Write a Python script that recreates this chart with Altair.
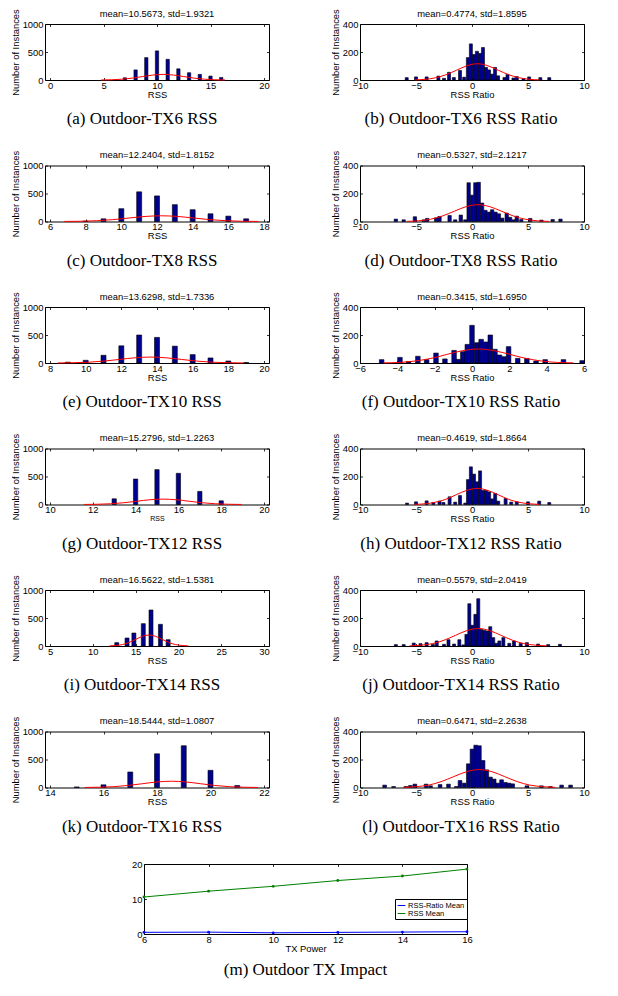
import altair as alt
import pandas as pd

# ---------------- data ----------------
# RSS histograms (bar centres, counts)
A_X = [7, 8, 9, 10, 11, 12, 13, 14, 15, 16]
A_N = [40, 180, 400, 520, 370, 200, 130, 100, 70, 45]
C_X = [8, 9, 10, 11, 12, 13, 14, 15, 16, 17]
C_N = [8, 48, 229, 530, 457, 301, 211, 138, 96, 48]
E_X = [9, 10, 11, 12, 13, 14, 15, 16, 17, 18, 19]
E_N = [15, 48, 138, 307, 500, 457, 301, 150, 90, 36, 8]
G_X = [13, 14, 15, 16, 17, 18]
G_N = [102, 455, 623, 557, 234, 66]
I_X = [12.8, 14.0, 14.8, 15.9, 16.8, 17.9, 18.8]
I_N = [60, 143, 232, 399, 643, 387, 113]
K_X = [15, 16, 17, 18, 19, 20, 21]
K_N = [10, 48, 277, 602, 746, 307, 36]

# RSS ratio histograms (bin centres, counts)
B_X = [-5.83, -5.0, -4.05, -3.0, -2.5, -2.05, -1.62, -1.07, -0.7, -0.37, -0.1, 0.17, 0.44, 0.71,
       0.98, 1.25, 1.52, 1.79, 2.06, 2.33, 2.9, 3.17, 3.7, 4.0, 4.6, 5.1, 6.1, 6.9]
B_N = [17, 22, 22, 28, 12, 55, 18, 68, 20, 160, 258, 182, 205, 190,
       232, 90, 72, 42, 90, 30, 18, 40, 14, 24, 10, 22, 17, 17]
D_X = [-6.8, -6.1, -5.1, -4.3, -4.0, -3.2, -2.9, -2.0, -1.5, -1.0, -0.6, -0.3, 0.0, 0.3, 0.6, 0.9,
       1.2, 1.5, 1.8, 2.1, 2.4, 2.7, 3.1, 3.4, 3.7, 4.0, 4.4, 5.2, 6.2, 7.2, 7.9]
D_N = [17, 12, 34, 12, 22, 26, 36, 43, 12, 46, 12, 277, 188, 277, 280, 132,
       80, 67, 84, 67, 55, 24, 60, 30, 12, 38, 14, 22, 10, 14, 17]
F_X = [-4.84, -3.86, -3.4, -2.9, -2.43, -1.93, -1.45, -0.96, -0.73, -0.49, -0.25, 0.0, 0.25, 0.49,
       0.74, 0.98, 1.23, 1.47, 1.72, 1.96, 2.45, 2.94, 3.43, 3.92, 4.9, 5.9]
F_N = [24, 40, 10, 48, 24, 71, 29, 90, 26, 81, 133, 269, 145, 169,
       150, 200, 98, 57, 45, 117, 33, 33, 14, 24, 24, 17]
H_X = [-5.8, -5.0, -4.05, -3.45, -2.9, -2.55, -2.0, -1.5, -1.07, -0.6, -0.36, -0.1, 0.18, 0.45,
       0.72, 0.99, 1.26, 1.53, 1.8, 2.07, 2.34, 3.0, 3.5, 4.0, 5.0, 6.0, 6.9]
H_N = [10, 19, 26, 14, 24, 14, 55, 17, 64, 10, 178, 269, 217, 162,
       240, 100, 100, 90, 40, 79, 24, 43, 17, 19, 19, 24, 14]
J_X = [-6.8, -6.1, -5.2, -4.6, -4.05, -3.5, -3.15, -2.5, -2.1, -1.6, -1.13, -0.77, -0.5, -0.24,
       0.03, 0.3, 0.56, 0.83, 1.1, 1.37, 1.63, 1.9, 2.17, 2.44, 2.8, 3.33, 3.75, 4.35, 4.9, 5.9,
       6.8, 7.85]
J_N = [10, 10, 21, 17, 24, 12, 36, 12, 45, 14, 45, 8, 83, 302,
       148, 226, 338, 119, 112, 107, 138, 60, 19, 36, 60, 19, 36, 19, 24, 14,
       10, 12]
L_X = [-7.8, -7.0, -5.9, -5.5, -5.1, -4.1, -3.7, -2.85, -2.1, -1.4, -1.07, -0.7, -0.33, 0.0, 0.33,
       0.66, 0.99, 1.32, 1.65, 1.98, 2.31, 2.64, 2.97, 3.3, 3.63, 4.9, 6.2, 7.0, 8.0, 8.8]
L_N = [17, 7, 7, 14, 24, 24, 12, 21, 24, 7, 50, 31, 169, 274, 302,
       298, 193, 126, 74, 60, 31, 55, 36, 31, 26, 12, 12, 7, 17, 17]

# red fitted curves (x, y)
A_CX = [4.78, 5.74, 6.71, 7.67, 8.64, 9.60, 10.57, 11.54, 12.50, 13.47, 14.43, 15.40, 16.36]
A_CY = [1, 4, 14, 33, 61, 88, 100, 88, 61, 33, 14, 4, 1]
B_CX = [-5.10, -4.17, -3.24, -2.31, -1.38, -0.45, 0.48, 1.41, 2.34, 3.27, 4.20, 5.13, 6.06]
B_CY = [1, 5, 16, 38, 70, 102, 116, 102, 70, 38, 16, 5, 1]
C_CX = [6.80, 7.70, 8.61, 9.52, 10.43, 11.33, 12.24, 13.15, 14.06, 14.96, 15.87, 16.78, 17.69]
C_CY = [1, 4, 14, 33, 62, 90, 102, 90, 62, 33, 14, 4, 1]
D_CX = [-5.83, -4.77, -3.71, -2.65, -1.59, -0.53, 0.53, 1.59, 2.65, 3.71, 4.77, 5.83, 6.89]
D_CY = [1, 5, 16, 39, 73, 106, 120, 106, 73, 39, 16, 5, 1]
E_CX = [8.43, 9.30, 10.16, 11.03, 11.90, 12.76, 13.63, 14.50, 15.36, 16.23, 17.10, 17.96, 18.83]
E_CY = [1, 5, 14, 34, 64, 93, 106, 93, 64, 34, 14, 5, 1]
F_CX = [-4.74, -3.90, -3.05, -2.20, -1.35, -0.51, 0.34, 1.19, 2.04, 2.88, 3.73, 4.58, 5.43]
F_CY = [1, 4, 14, 33, 61, 88, 100, 88, 61, 33, 14, 4, 1]
G_CX = [11.60, 12.21, 12.83, 13.44, 14.05, 14.67, 15.28, 15.89, 16.51, 17.12, 17.73, 18.35, 18.96]
G_CY = [1, 4, 13, 31, 58, 85, 96, 85, 58, 31, 13, 4, 1]
H_CX = [-5.14, -4.20, -3.27, -2.34, -1.40, -0.47, 0.46, 1.39, 2.33, 3.26, 4.19, 5.13, 6.06]
H_CY = [1, 5, 16, 37, 70, 101, 115, 101, 70, 37, 16, 5, 1]
I_CX = [11.95, 12.71, 13.48, 14.25, 15.02, 15.79, 16.56, 17.33, 18.10, 18.87, 19.64, 20.41, 21.17]
I_CY = [2, 9, 26, 64, 119, 173, 196, 173, 119, 64, 26, 9, 2]
J_CX = [-5.57, -4.54, -3.52, -2.50, -1.48, -0.46, 0.56, 1.58, 2.60, 3.62, 4.64, 5.66, 6.68]
J_CY = [1, 6, 17, 41, 76, 110, 125, 110, 76, 41, 17, 6, 1]
K_CX = [15.30, 15.84, 16.38, 16.92, 17.46, 18.00, 18.54, 19.08, 19.62, 20.16, 20.70, 21.24, 21.78]
K_CY = [1, 5, 15, 36, 68, 99, 112, 99, 68, 36, 15, 5, 1]
L_CX = [-6.14, -5.01, -3.88, -2.75, -1.62, -0.48, 0.65, 1.78, 2.91, 4.04, 5.17, 6.31, 7.44]
L_CY = [1, 6, 17, 42, 78, 113, 128, 113, 78, 42, 17, 6, 1]

TITLES = ["mean=10.5673, std=1.9321", "mean=0.4774, std=1.8595",
          "mean=12.2404, std=1.8152", "mean=0.5327, std=2.1217",
          "mean=13.6298, std=1.7336", "mean=0.3415, std=1.6950",
          "mean=15.2796, std=1.2263", "mean=0.4619, std=1.8664",
          "mean=16.5622, std=1.5381", "mean=0.5579, std=2.0419",
          "mean=18.5444, std=1.0807", "mean=0.6471, std=2.2638"]
CAPTIONS = ["(a) Outdoor-TX6 RSS", "(b) Outdoor-TX6 RSS Ratio",
            "(c) Outdoor-TX8 RSS", "(d) Outdoor-TX8 RSS Ratio",
            "(e) Outdoor-TX10 RSS", "(f) Outdoor-TX10 RSS Ratio",
            "(g) Outdoor-TX12 RSS", "(h) Outdoor-TX12 RSS Ratio",
            "(i) Outdoor-TX14 RSS", "(j) Outdoor-TX14 RSS Ratio",
            "(k) Outdoor-TX16 RSS", "(l) Outdoor-TX16 RSS Ratio"]

RSS_TICKS = {
    "a": [0, 5, 10, 15, 20], "c": [6, 8, 10, 12, 14, 16, 18], "e": [8, 10, 12, 14, 16, 18, 20],
    "g": [10, 12, 14, 16, 18, 20], "i": [5, 10, 15, 20, 25, 30], "k": [14, 16, 18, 20, 22],
}
RATIO_TICKS = [-10, -5, 0, 5, 10]
F_TICKS = [-6, -4, -2, 0, 2, 4, 6]
RSS_YTICKS = [0, 500, 1000]
RATIO_YTICKS = [0, 200, 400]

# bottom panel (m)
TX_POWER = [6, 8, 10, 12, 14, 16]
RSS_MEAN = [10.5673, 12.2404, 13.6298, 15.2796, 16.5622, 18.5444]
RATIO_MEAN = [0.4774, 0.5327, 0.3415, 0.4619, 0.5579, 0.6471]
SERIES = ["RSS-Ratio Mean", "RSS Mean"]
M_YTICKS = [0, 10, 20]

# ---------------- styling ----------------
W, H = 224, 56
NAVY = "#00008F"
FS = 9.4
CAPFS = 17
SANS = "Liberation Sans"
SERIF = "Liberation Serif"
TK = 2.5  # inward tick length (MATLAB style)


def main_axis(values, title, pad, tpad, tfs=FS):
    return alt.Axis(values=values, title=title, titleFontSize=tfs, format="d",
                    offset=-TK, ticks=True, tickSize=TK, tickColor="black", tickWidth=0.8,
                    labelPadding=pad, titlePadding=tpad)


def mirror_axis(values, orient):
    return alt.Axis(values=values, orient=orient, title="", labels=False, offset=-TK,
                    ticks=True, tickSize=TK, tickColor="black", tickWidth=0.8)


def panel(kind, xs, ns, cx, cy, xdom, xticks, ydom, yticks, title, xtitle, caption,
          size=4.5, bw=0.27, xts=FS, capdx=-15):
    xsc = alt.Scale(domain=xdom, nice=False, zero=False)
    ysc = alt.Scale(domain=ydom, nice=False)
    xenc = alt.X("x0:Q", scale=xsc, axis=main_axis(xticks, xtitle, 1, 1, xts))
    yenc = alt.Y("n:Q", scale=ysc, axis=main_axis(yticks, "Number of Instances", 2, 2))
    if kind == "rss":
        df = pd.DataFrame({"x0": xs, "n": ns})
        bars = alt.Chart(df).mark_bar(size=size, color=NAVY, stroke="black",
                                      strokeWidth=0.6).encode(x=xenc, y=yenc)
    else:
        df = pd.DataFrame({"x0": [v - bw / 2 for v in xs], "x1": [v + bw / 2 for v in xs], "n": ns})
        bars = alt.Chart(df).mark_bar(color=NAVY, stroke="black", strokeWidth=0.6).encode(
            x=xenc, x2="x1:Q", y=yenc, y2=alt.datum(0))
    cdf = pd.DataFrame({"x0": cx, "n": cy})
    curve = alt.Chart(cdf).mark_line(color="red", strokeWidth=1, interpolate="monotone").encode(
        x=alt.X("x0:Q", scale=xsc, axis=mirror_axis(xticks, "top")),
        y=alt.Y("n:Q", scale=ysc, axis=mirror_axis(yticks, "right")))
    ttl = alt.Chart(pd.DataFrame({"t": [title]})).mark_text(
        font=SANS, fontSize=FS, align="center", baseline="middle", color="black"
    ).encode(x=alt.value(W / 2), y=alt.value(-10.5), text="t:N")
    cap = alt.Chart(pd.DataFrame({"t": [caption]})).mark_text(
        font=SERIF, fontSize=CAPFS, align="center", baseline="middle", color="black"
    ).encode(x=alt.value(W / 2 + capdx), y=alt.value(H + 39), text="t:N")
    return alt.layer(bars, curve, ttl, cap).resolve_axis(x="independent", y="independent").properties(
        width=W, height=H)


pa = panel("rss", A_X, A_N, A_CX, A_CY, [0, 20], RSS_TICKS["a"], [0, 1000], RSS_YTICKS,
           TITLES[0], "RSS", CAPTIONS[0], size=3.3)
pb = panel("ratio", B_X, B_N, B_CX, B_CY, [-10, 10], RATIO_TICKS, [0, 400], RATIO_YTICKS,
           TITLES[1], "RSS Ratio", CAPTIONS[1], bw=0.27, capdx=-11)
pc = panel("rss", C_X, C_N, C_CX, C_CY, [6, 18], RSS_TICKS["c"], [0, 1000], RSS_YTICKS,
           TITLES[2], "RSS", CAPTIONS[2], size=5)
pd_ = panel("ratio", D_X, D_N, D_CX, D_CY, [-10, 10], RATIO_TICKS, [0, 400], RATIO_YTICKS,
            TITLES[3], "RSS Ratio", CAPTIONS[3], bw=0.30, capdx=-11)
pe = panel("rss", E_X, E_N, E_CX, E_CY, [8, 20], RSS_TICKS["e"], [0, 1000], RSS_YTICKS,
           TITLES[4], "RSS", CAPTIONS[4], size=5)
pf = panel("ratio", F_X, F_N, F_CX, F_CY, [-6, 6], F_TICKS, [0, 400], RATIO_YTICKS,
           TITLES[5], "RSS Ratio", CAPTIONS[5], bw=0.245, capdx=-11)
pg = panel("rss", G_X, G_N, G_CX, G_CY, [10, 20], RSS_TICKS["g"], [0, 1000], RSS_YTICKS,
           TITLES[6], "RSS", CAPTIONS[6], size=4.3, xts=7)
ph = panel("ratio", H_X, H_N, H_CX, H_CY, [-10, 10], RATIO_TICKS, [0, 400], RATIO_YTICKS,
           TITLES[7], "RSS Ratio", CAPTIONS[7], bw=0.27, capdx=-11)
pi = panel("rss", I_X, I_N, I_CX, I_CY, [5, 30], RSS_TICKS["i"], [0, 1000], RSS_YTICKS,
           TITLES[8], "RSS", CAPTIONS[8], size=4)
pj = panel("ratio", J_X, J_N, J_CX, J_CY, [-10, 10], RATIO_TICKS, [0, 400], RATIO_YTICKS,
           TITLES[9], "RSS Ratio", CAPTIONS[9], bw=0.27, capdx=-11)
pk = panel("rss", K_X, K_N, K_CX, K_CY, [14, 22], RSS_TICKS["k"], [0, 1000], RSS_YTICKS,
           TITLES[10], "RSS", CAPTIONS[10], size=5)
pl = panel("ratio", L_X, L_N, L_CX, L_CY, [-10, 10], RATIO_TICKS, [0, 400], RATIO_YTICKS,
           TITLES[11], "RSS Ratio", CAPTIONS[11], bw=0.33, capdx=-11)

rows = [alt.hconcat(l, r, spacing=91, bounds="flush")
        for l, r in [(pa, pb), (pc, pd_), (pe, pf), (pg, ph), (pi, pj), (pk, pl)]]

# bottom line chart
mdf = pd.DataFrame({
    "tx": TX_POWER + TX_POWER,
    "v": RATIO_MEAN + RSS_MEAN,
    "s": [SERIES[0]] * len(TX_POWER) + [SERIES[1]] * len(TX_POWER),
})
MW, MH = 323, 70
mxs = alt.Scale(domain=[6, 16], nice=False, zero=False)
mys = alt.Scale(domain=[0, 20], nice=False)
mline = alt.Chart(mdf).mark_line(strokeWidth=1, point=alt.OverlayMarkDef(size=8, filled=True)).encode(
    x=alt.X("tx:Q", scale=mxs, axis=main_axis(TX_POWER, "TX Power", 1, 1)),
    y=alt.Y("v:Q", scale=mys, axis=main_axis(M_YTICKS, "", 2, 2)),
    color=alt.Color("s:N", scale=alt.Scale(domain=SERIES, range=["#0000FF", "#008000"]),
                    legend=alt.Legend(title="", orient="none", legendX=251, legendY=35,
                                      strokeColor="black", fillColor="white", padding=2,
                                      labelFontSize=7.5, labelFont=SANS, labelColor="black",
                                      symbolType="stroke", symbolStrokeWidth=1, symbolSize=60,
                                      rowPadding=0, labelOffset=2)),
)
mticks = alt.Chart(mdf).mark_point(opacity=0).encode(
    x=alt.X("tx:Q", scale=mxs, axis=mirror_axis(TX_POWER, "top")),
    y=alt.Y("v:Q", scale=mys, axis=mirror_axis(M_YTICKS, "right")),
)
mcap = alt.Chart(pd.DataFrame({"t": ["(m) Outdoor TX Impact"]})).mark_text(
    font=SERIF, fontSize=CAPFS, align="center", baseline="middle", color="black"
).encode(x=alt.value(MW / 2), y=alt.value(MH + 36), text="t:N")
mchart = alt.layer(mline, mticks, mcap).resolve_axis(x="independent", y="independent").properties(
    width=MW, height=MH)

spacer = alt.Chart(pd.DataFrame({"t": [""]})).mark_text().encode(
    x=alt.value(0), y=alt.value(0), text="t:N"
).properties(width=99, height=MH, view=alt.ViewBackground(stroke="transparent"))

bottom = alt.hconcat(spacer, mchart, spacing=0, bounds="flush").resolve_scale(
    color="independent").resolve_legend(color="independent")

chart = alt.vconcat(*rows, bottom, spacing=21.5).resolve_scale(
    color="independent").resolve_legend(color="independent").properties(
    padding={"left": 1, "top": 0, "right": 0, "bottom": 0}
).configure_view(stroke="black", strokeWidth=1).configure_axis(
    labelFont=SANS, labelFontSize=FS, labelColor="black",
    titleFont=SANS, titleFontSize=FS, titleFontWeight="normal", titleColor="black",
    grid=False, domain=False, labelFlush=False, labelOverlap=False,
)

chart.save("out.html", embed_options={"renderer": "svg", "actions": False})
